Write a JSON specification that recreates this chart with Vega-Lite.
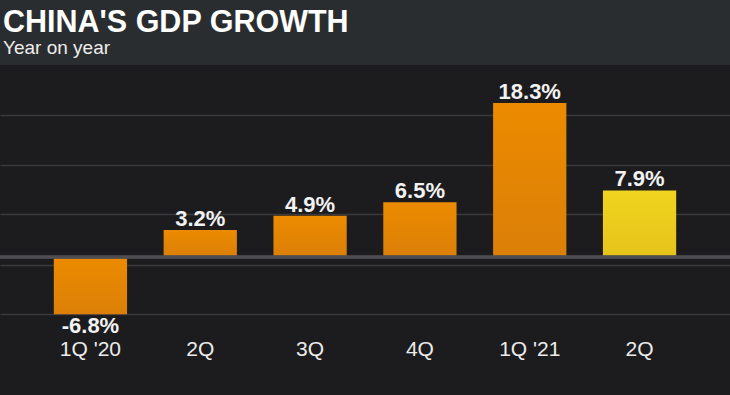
{
  "$schema": "https://vega.github.io/schema/vega-lite/v6.json",
  "width": 730,
  "height": 330,
  "autosize": {"type": "none"},
  "padding": {"top": 65, "left": 0, "right": 0, "bottom": 0},
  "background": "#2a2d2f",
  "config": {"view": {"fill": "#1c1c1f", "stroke": null}, "font": "Liberation Sans"},
  "title": {
    "text": "CHINA'S GDP GROWTH",
    "subtitle": "Year on year",
    "anchor": "start",
    "frame": "group",
    "font": "Liberation Sans",
    "fontSize": 30.5,
    "fontWeight": "bold",
    "color": "#ffffff",
    "subtitleFont": "Liberation Sans",
    "subtitleFontSize": 19,
    "subtitleColor": "#eeeeee",
    "offset": 7,
    "subtitlePadding": 1,
    "dx": 3
  },
  "data": {
    "values": [
      {"period": "1Q '20", "value": -6.8, "label": "-6.8%"},
      {"period": "2Q '20", "value": 3.2, "label": "3.2%"},
      {"period": "3Q '20", "value": 4.9, "label": "4.9%"},
      {"period": "4Q '20", "value": 6.5, "label": "6.5%"},
      {"period": "1Q '21", "value": 18.3, "label": "18.3%"},
      {"period": "2Q '21", "value": 7.9, "label": "7.9%"}
    ]
  },
  "encoding": {
    "x": {
      "field": "period",
      "type": "nominal",
      "sort": null,
      "scale": {"paddingInner": 0.333, "paddingOuter": 0.49},
      "axis": {
        "title": null,
        "orient": "bottom",
        "offset": -40,
        "domain": false,
        "ticks": false,
        "tickSize": 0,
        "labelPadding": 0,
        "labelBaseline": "alphabetic",
        "labelAngle": 0,
        "labelFont": "Liberation Sans",
        "labelFontSize": 21,
        "labelColor": "#ececec",
        "labelExpr": "indexof(datum.label, '1Q') == 0 ? datum.label : slice(datum.label, 0, 2)"
      }
    }
  },
  "layer": [
    {
      "transform": [{"filter": "datum.period != \"2Q '21\""}],
      "mark": {
        "type": "bar",
        "color": {
          "gradient": "linear",
          "x1": 0, "y1": 0, "x2": 0, "y2": 1,
          "stops": [
            {"offset": 0, "color": "#ec8b00"},
            {"offset": 1, "color": "#db7f08"}
          ]
        }
      },
      "encoding": {
        "y": {
          "field": "value",
          "type": "quantitative",
          "scale": {"domain": [-16.39, 22.8], "nice": false, "zero": false},
          "axis": {
            "values": [-6.77, -0.95, 5.11, 10.93, 16.86],
            "grid": true,
            "gridColor": "#3a3a3d",
            "gridWidth": 1.5,
            "labels": false,
            "ticks": false,
            "domain": false,
            "title": null
          }
        }
      }
    },
    {
      "transform": [{"filter": "datum.period == \"2Q '21\""}],
      "mark": {
        "type": "bar",
        "color": {
          "gradient": "linear",
          "x1": 0, "y1": 0, "x2": 0, "y2": 1,
          "stops": [
            {"offset": 0, "color": "#f0d41f"},
            {"offset": 1, "color": "#e6c31a"}
          ]
        }
      },
      "encoding": {
        "y": {"field": "value", "type": "quantitative"}
      }
    },
    {
      "mark": {"type": "rule", "color": "#4e4e52", "strokeWidth": 2.5},
      "encoding": {"x": null, "y": {"datum": 0, "type": "quantitative"}}
    },
    {
      "transform": [{"filter": "datum.value >= 0"}],
      "mark": {"type": "text", "baseline": "alphabetic", "dy": -4, "font": "Liberation Sans", "fontSize": 22, "fontWeight": "bold", "color": "#f2f2f2"},
      "encoding": {
        "y": {"field": "value", "type": "quantitative"},
        "text": {"field": "label"}
      }
    },
    {
      "transform": [{"filter": "datum.value < 0"}],
      "mark": {"type": "text", "baseline": "alphabetic", "dy": 19, "font": "Liberation Sans", "fontSize": 22, "fontWeight": "bold", "color": "#f2f2f2"},
      "encoding": {
        "y": {"field": "value", "type": "quantitative"},
        "text": {"field": "label"}
      }
    }
  ]
}
